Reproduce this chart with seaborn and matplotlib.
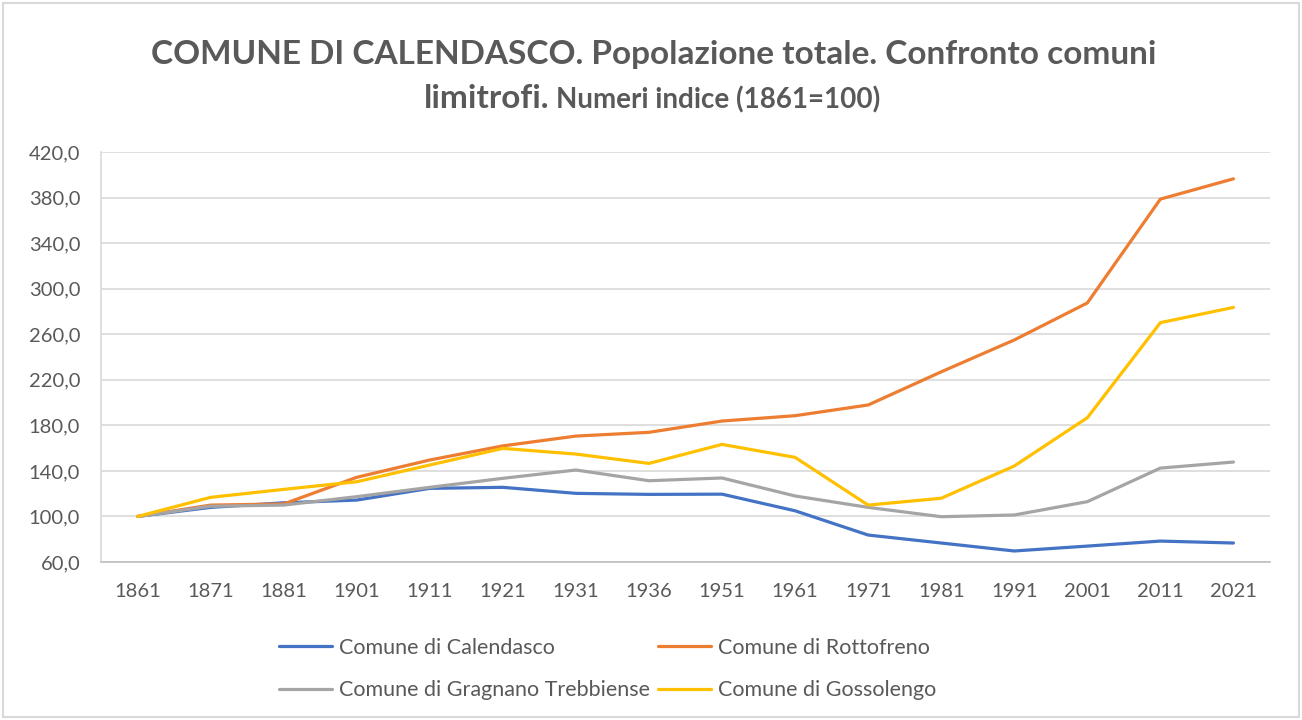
import pandas as pd
import matplotlib.pyplot as plt
import seaborn as sns
from matplotlib.patches import Rectangle

# Valori (numeri indice, 1861=100)
anni = ['1861', '1871', '1881', '1901', '1911', '1921', '1931', '1936',
        '1951', '1961', '1971', '1981', '1991', '2001', '2011', '2021']
calendasco = [100, 108, 112, 114.4, 124.7, 125.6, 120.3, 119.4,
              119.6, 105, 83.7, 76.7, 69.7, 74, 78.4, 76.7]
rottofreno = [100, 110, 111, 134.4, 149.6, 162, 170.6, 173.9,
              183.8, 188.5, 197.9, 227, 255, 287.5, 378.7, 396.5]
gragnano = [100, 109, 110, 117.4, 125.6, 133.5, 140.8, 131.4,
            133.8, 118, 108, 99.8, 101.3, 113, 142.5, 147.8]
gossolengo = [100, 116.8, 123.8, 130.5, 145.2, 159.8, 154.8, 146.6,
              163.3, 151.9, 110, 116, 144.3, 186.7, 270.2, 283.6]

serie = {
    'Comune di Calendasco': calendasco,
    'Comune di Rottofreno': rottofreno,
    'Comune di Gragnano Trebbiense': gragnano,
    'Comune di Gossolengo': gossolengo,
}
colori = ['#4472C4', '#ED7D31', '#A5A5A5', '#FFC000']

df = pd.DataFrame([
    {'Anno': a, 'Comune': nome, 'Indice': v}
    for nome, valori in serie.items()
    for a, v in zip(anni, valori)
])

sns.set_style('white')
plt.rcParams['font.family'] = ['Lato', 'DejaVu Sans']

fig = plt.figure(figsize=(13.02, 7.2), dpi=100)
ax = fig.add_axes([0.0776, 0.2194, 0.8978, 0.5694])

sns.lineplot(data=df, x='Anno', y='Indice', hue='Comune', palette=colori,
             sort=False, linewidth=2.3, ax=ax, legend=True)

ax.set_xlim(-0.5, len(anni) - 0.5)
ax.set_ylim(60, 420)
ax.set_yticks(range(60, 421, 40))
ax.set_yticklabels([f'{v},0' for v in range(60, 421, 40)])
ax.set_xlabel('')
ax.set_ylabel('')
ax.grid(axis='y', color='#D9D9D9', linewidth=1.2)
ax.set_axisbelow(True)
for s in ['top', 'right']:
    ax.spines[s].set_visible(False)
ax.spines['left'].set_color('#D9D9D9')
ax.spines['left'].set_linewidth(1.2)
ax.spines['bottom'].set_color('#BFBFBF')
ax.spines['bottom'].set_linewidth(1.2)
ax.tick_params(axis='both', length=0, labelsize=14.5, colors='#595959')
ax.tick_params(axis='y', pad=15)
ax.tick_params(axis='x', pad=15)

# legenda in basso su due colonne
handles, labels = ax.get_legend_handles_labels()
ax.get_legend().remove()
ordine = [0, 2, 1, 3]
fig.legend([handles[i] for i in ordine], [labels[i] for i in ordine],
           ncol=2, loc='center', bbox_to_anchor=(0.467, 0.0708), frameon=False,
           fontsize=15.5, labelcolor='#595959', handlelength=2.46,
           columnspacing=0.37, handletextpad=0.33, labelspacing=1.05)

# titolo
fig.text(0.502, 0.911, 'COMUNE DI CALENDASCO. Popolazione totale. Confronto comuni',
         ha='center', va='baseline', fontsize=24, fontweight='bold', color='#595959')
t1 = fig.text(0.5, 0.85, 'limitrofi.', ha='left', va='baseline',
              fontsize=24, fontweight='bold', color='#595959')
t2 = fig.text(0.5, 0.85, 'Numeri indice (1861=100)', ha='left', va='baseline',
              fontsize=20, fontweight='bold', color='#595959')
fig.canvas.draw()
r = fig.canvas.get_renderer()
w1 = t1.get_window_extent(r).width / fig.bbox.width
w2 = t2.get_window_extent(r).width / fig.bbox.width
gap = 7 / fig.bbox.width
x0 = 0.501 - (w1 + gap + w2) / 2
t1.set_x(x0)
t2.set_x(x0 + w1 + gap)

# cornice esterna
fig.patches.append(Rectangle((0.0025, 0.004), 0.9955, 0.992, transform=fig.transFigure,
                             fill=False, edgecolor='#D9D9D9', linewidth=1.5))

plt.savefig('out.png', dpi=100)
plt.close()
